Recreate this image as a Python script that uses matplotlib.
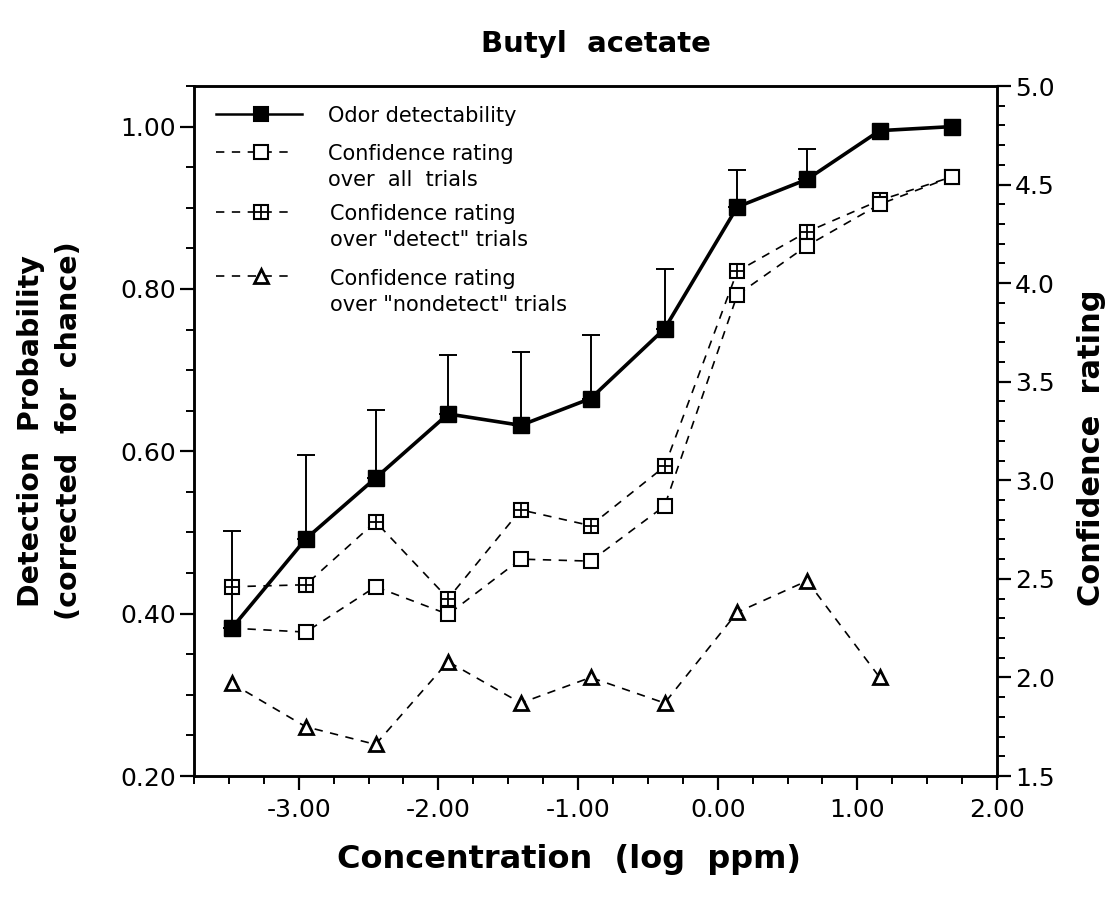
import matplotlib
matplotlib.use("Agg")

import matplotlib.pyplot as plt
import numpy as np
from matplotlib.lines import Line2D
from matplotlib.ticker import FormatStrFormatter, MultipleLocator

plt.rcParams["font.family"] = ["DejaVu Sans"]
plt.rcParams["axes.unicode_minus"] = False

# concentration steps (log ppm)
log_conc = [-3.48, -2.95, -2.45, -1.93, -1.41, -0.91, -0.38, 0.14, 0.64, 1.16, 1.68]

# detection probability (corrected for chance) and upper SE
detectability = [0.382, 0.492, 0.567, 0.646, 0.632, 0.665, 0.751, 0.901, 0.935, 0.995, 1.000]
detect_se = [0.120, 0.103, 0.084, 0.073, 0.090, 0.078, 0.074, 0.046, 0.038, 0.0, 0.0]

# confidence ratings (right axis)
conf_all = [2.25, 2.23, 2.46, 2.32, 2.60, 2.59, 2.87, 3.94, 4.19, 4.40, 4.54]
conf_detect = [2.46, 2.47, 2.79, 2.40, 2.85, 2.77, 3.07, 4.06, 4.26, 4.42, 4.54]
conf_nondetect = [1.97, 1.75, 1.66, 2.08, 1.87, 2.00, 1.87, 2.33, 2.49, 2.00]

x_ticks = [-3.0, -2.0, -1.0, 0.0, 1.0, 2.0]
left_ticks = [0.2, 0.4, 0.6, 0.8, 1.0]
right_ticks = [1.5, 2.0, 2.5, 3.0, 3.5, 4.0, 4.5, 5.0]

DASH = (0, (5, 4.5))

fig = plt.figure(figsize=(11.2, 9.11), dpi=100)
ax = fig.add_axes([194 / 1120, 1 - 776 / 911, 803 / 1120, 690 / 911])
ax2 = ax.twinx()
ax.set_zorder(ax2.get_zorder() + 1)
ax.patch.set_visible(False)

# confidence series on the right scale
x = np.array(log_conc)
ax2.plot(x, conf_detect, linestyle=DASH, color="black", lw=1.2,
         marker="s", ms=10, mfc="white", mec="black", mew=1.5, zorder=2)
ax2.plot(x, conf_detect, linestyle="none", marker="+", ms=10,
         mec="black", mew=1.3, zorder=2)
ax2.plot(x, conf_all, linestyle=DASH, color="black", lw=1.2,
         marker="s", ms=10, mfc="white", mec="black", mew=1.5, zorder=3)
ax2.plot(x[:len(conf_nondetect)], conf_nondetect, linestyle=DASH, color="black", lw=1.2,
         marker="^", ms=10, mfc="white", mec="black", mew=2.0, zorder=3)

# detectability with upper error bars
se = np.array(detect_se)
has_bar = se > 0
det = np.array(detectability)
ax.errorbar(x[has_bar], det[has_bar], yerr=[np.zeros(has_bar.sum()), se[has_bar]],
            fmt="none", ecolor="black", elinewidth=1.4, capsize=6.5, capthick=1.4, zorder=2)
ax.plot(x, det, color="black", lw=2.6, marker="s", ms=11, mfc="black", mec="black", zorder=4)

# axes and ticks
ax.set_xlim(-3.75, 2.0)
ax.set_ylim(0.2, 1.05)
ax2.set_ylim(1.5, 5.0)

ax.set_xticks(x_ticks)
ax.xaxis.set_minor_locator(MultipleLocator(0.25))
ax.xaxis.set_major_formatter(FormatStrFormatter("%.2f"))
ax.set_yticks(left_ticks)
ax.yaxis.set_minor_locator(MultipleLocator(0.05))
ax.yaxis.set_major_formatter(FormatStrFormatter("%.2f"))
ax2.set_yticks(right_ticks)
ax2.yaxis.set_minor_locator(MultipleLocator(0.1))
ax2.yaxis.set_major_formatter(FormatStrFormatter("%.1f"))

for a in (ax, ax2):
    a.tick_params(which="major", direction="out", length=10, width=1.6, labelsize=18, pad=3)
    a.tick_params(which="minor", direction="out", length=5.5, width=1.4)
    for sp in a.spines.values():
        sp.set_linewidth(1.8)
ax.tick_params(axis="x", which="major", pad=6)

# legend drawn by hand so handles sit on the first text line
legend_rows = [
    (0.959, "-", "s", "black", ["Odor detectability"]),
    (0.905, DASH, "s", "white", ["Confidence rating", "over  all  trials"]),
    (0.818, DASH, "s+", "white", ["Confidence rating", "over \"detect\" trials"]),
    (0.724, DASH, "^", "white", ["Confidence rating", "over \"nondetect\" trials"]),
]
for yy, ls, mk, fc, lines in legend_rows:
    solid = ls == "-"
    x_end = 0.134 if solid else 0.123
    ax.add_line(Line2D([0.028, x_end], [yy, yy], transform=ax.transAxes,
                       linestyle=ls, color="black", lw=1.8 if solid else 1.2, clip_on=False))
    base = "s" if mk.startswith("s") else "^"
    ax.add_line(Line2D([0.083], [yy], transform=ax.transAxes, linestyle="none",
                       marker=base, ms=10, mfc=fc, mec="black",
                       mew=2.0 if base == "^" else 1.5, clip_on=False))
    if mk == "s+":
        ax.add_line(Line2D([0.083], [yy], transform=ax.transAxes, linestyle="none",
                           marker="+", ms=10, mec="black", mew=1.3, clip_on=False))
    tx = 0.167 if len(lines) == 1 or "all" in lines[1] else 0.169
    for i, line in enumerate(lines):
        ax.text(tx, yy - 0.003 - i * 0.038, line, transform=ax.transAxes,
                fontsize=15, va="center", ha="left")

# titles
fig.text(0.532, 0.952, "Butyl  acetate", ha="center", va="center",
         fontsize=21, fontweight="bold")
fig.text(0.508, 0.056, "Concentration  (log  ppm)", ha="center", va="center",
         fontsize=23, fontweight="bold")
fig.text(0.045, 0.527, "Detection  Probability\n(corrected  for  chance)", rotation=90,
         ha="center", va="center", linespacing=1.45, fontsize=20.5, fontweight="bold")
fig.text(0.975, 0.509, "Confidence  rating", rotation=90, ha="center", va="center",
         fontsize=22, fontweight="bold")

fig.savefig("out.png", dpi=100)
